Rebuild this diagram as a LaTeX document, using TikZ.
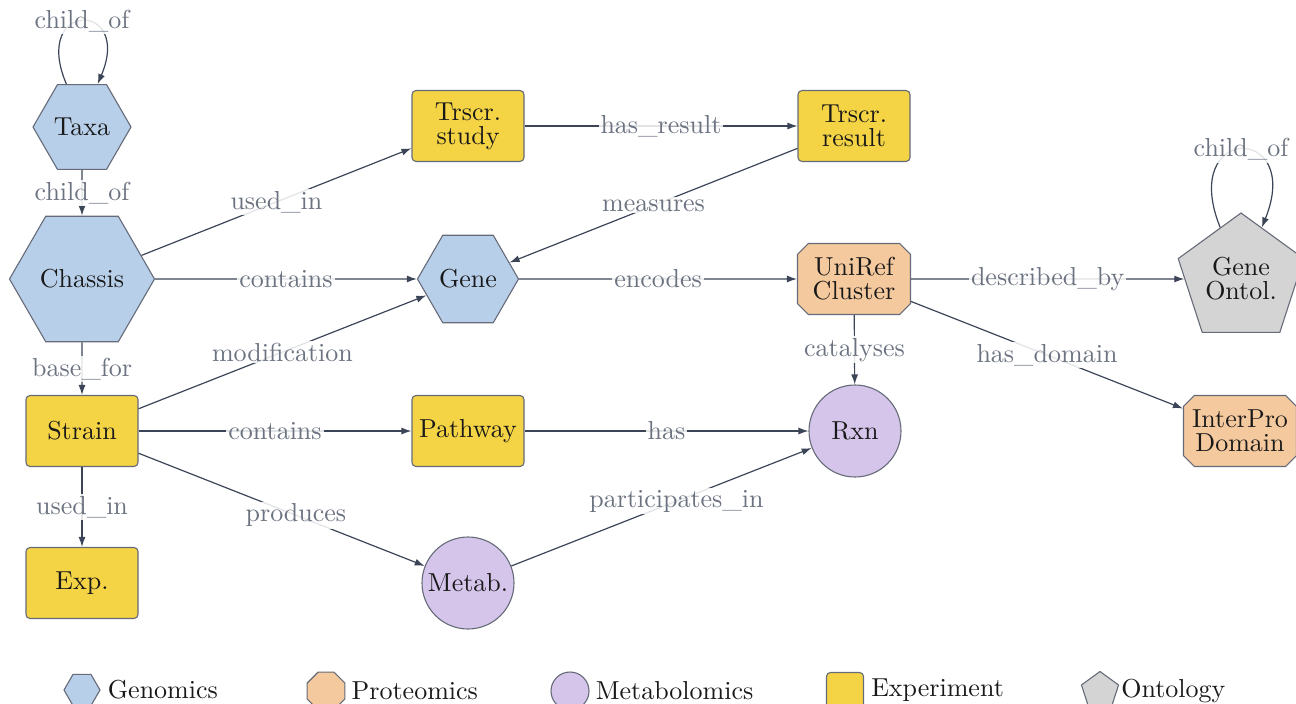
\documentclass[tikz,border=0pt]{standalone}
\usepackage{fontspec}
\setmainfont{lmroman10-regular}[Extension=.otf]
\usepackage{tikz}
\usetikzlibrary{shapes,arrows.meta,positioning,calc}

\definecolor{genblue}{HTML}{B8CFE9}
\definecolor{protorange}{HTML}{F5C99E}
\definecolor{metlav}{HTML}{D5C5EA}
\definecolor{expyellow}{HTML}{F4D444}
\definecolor{ontgray}{HTML}{D4D4D4}
\definecolor{bordergray}{HTML}{656B78}
\definecolor{edgeslate}{HTML}{3B4557}
\definecolor{labelgray}{HTML}{6B7280}

\begin{document}
\begin{tikzpicture}[x=1pt, y=-1pt,
    font=\fontsize{26}{24}\selectfont,
    base/.style={draw=bordergray, line width=1.1pt, inner sep=0pt, align=center, text=black!90},
    genomics/.style={base, regular polygon, regular polygon sides=6, fill=genblue},
    proteomics/.style={base, chamfered rectangle, chamfered rectangle xsep=8pt, fill=protorange,
        minimum width=113pt, minimum height=71pt},
    experiment/.style={base, rectangle, rounded corners=4pt, fill=expyellow,
        minimum width=112pt, minimum height=71pt},
    metabolomics/.style={base, circle, fill=metlav, minimum size=92pt},
    ontology/.style={base, regular polygon, regular polygon sides=5, fill=ontgray},
    rel/.style={draw=edgeslate, line width=1.2pt, -{Latex[length=10pt,width=7pt]}},
    lbl/.style={text=labelgray, fill=white, fill opacity=0.85, text opacity=1, inner sep=2pt},
    legtext/.style={inner sep=0pt, text=black!90}
]
\useasboundingbox (0,0) rectangle (1296,704);

% entities
\node[genomics, minimum size=98pt] (taxa) at (82,127) {Taxa};
\node[genomics, minimum size=145pt] (chassis) at (82,279) {Chassis};
\node[genomics, minimum size=101pt] (gene) at (468,279) {Gene};
\node[experiment] (study) at (468,126) {Trscr.\\study};
\node[experiment] (result) at (854,126) {Trscr.\\result};
\node[proteomics] (uniref) at (854,279) {UniRef\\Cluster};
\node[ontology, minimum size=132pt] (gonto) at (1241,279) {Gene\\Ontol.};
\node[experiment] (strain) at (82,431) {Strain};
\node[experiment] (pathway) at (468,431) {Pathway};
\node[metabolomics] (rxn) at (855,431) {Rxn};
\node[proteomics] (interpro) at (1240,431) {InterPro\\Domain};
\node[experiment] (exp) at (82,583) {Exp.};
\node[metabolomics] (metab) at (468,583) {Metab.};

% relations
\draw[rel] (taxa.110) .. controls +(113:91pt) and +(67:91pt) .. node[lbl] {child\_of} (taxa.70);
\draw[rel] (taxa) -- node[lbl] {child\_of} (chassis);
\draw[rel] (chassis) -- node[lbl] {used\_in} (study);
\draw[rel] (chassis) -- node[lbl] {contains} (gene);
\draw[rel] (chassis) -- node[lbl] {base\_for} (strain);
\draw[rel] (study) -- node[lbl] {has\_result} (result);
\draw[rel] (result) -- node[lbl] {measures} (gene);
\draw[rel] (gene) -- node[lbl] {encodes} (uniref);
\draw[rel] (uniref) -- node[lbl] {described\_by} (gonto);
\draw[rel] (uniref) -- node[lbl] {has\_domain} (interpro);
\draw[rel] (uniref) -- node[lbl] {catalyses} (rxn);
\draw[rel] (gonto.112) .. controls +(112:112pt) and +(68:112pt) .. node[lbl] {child\_of} (gonto.68);
\draw[rel] (strain) -- node[lbl] {modification} (gene);
\draw[rel] (strain) -- node[lbl] {contains} (pathway);
\draw[rel] (strain) -- node[lbl, pos=0.55] {produces} (metab);
\draw[rel] (strain) -- node[lbl] {used\_in} (exp);
\draw[rel] (pathway) -- node[lbl] {has} (rxn);
\draw[rel] (metab) -- node[lbl, pos=0.55] {participates\_in} (rxn);

% legend
\node[genomics, minimum size=36pt] (leggen) at (82,690) {};
\node[legtext, right=7pt of leggen] (leggentxt) {Genomics};
\node[base, regular polygon, regular polygon sides=8, fill=protorange, minimum size=41pt] (legprot) at (326,691) {};
\node[legtext, right=6pt of legprot] (legprottxt) {Proteomics};
\node[metabolomics, minimum size=38pt] (legmet) at (570,691) {};
\node[legtext, right=6pt of legmet] (legmettxt) {Metabolomics};
\node[base, rectangle, rounded corners=4pt, fill=expyellow, minimum size=37pt] (legexp) at (845,691) {};
\node[legtext, right=7pt of legexp, yshift=1pt] (legexptxt) {Experiment};
\node[ontology, minimum size=39pt] (legont) at (1100,691) {};
\node[legtext, right=4pt of legont] (legonttxt) {Ontology};
\end{tikzpicture}
\end{document}
